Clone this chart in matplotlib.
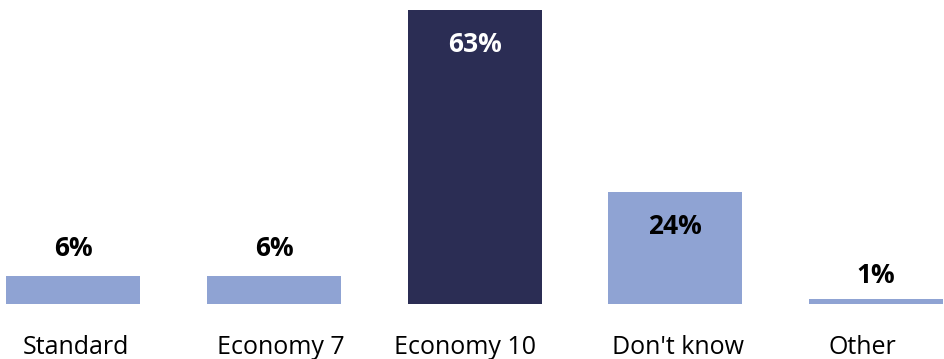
import matplotlib.pyplot as plt
import numpy as np

# tariff categories and share of respondents (%)
categories = ['Standard', 'Economy 7', 'Economy 10', "Don't know", 'Other']
values = [6, 6, 63, 24, 1]
colors = ['#8FA3D3', '#8FA3D3', '#2B2D54', '#8FA3D3', '#8FA3D3']

plt.rcParams['font.family'] = ['Open Sans', 'DejaVu Sans']

fig = plt.figure(figsize=(9.45, 3.59), dpi=100)
ax = fig.add_axes([0, 55 / 359, 1, 304 / 359])

x = np.arange(len(categories))
bars = ax.bar(x, values, width=0.668, color=colors)

ax.set_xlim(-0.366, 4.344)
ax.set_ylim(0, 65.1)

# value labels: inside the tall bars, above the short ones
for xi, v in zip(x, values):
    if v > 20:
        col = 'white' if v > 50 else 'black'
        ax.annotate(f'{v}%', (xi, v), xytext=(0, -25), textcoords='offset points',
                    ha='center', va='center', fontsize=19, fontweight='bold', color=col)
    else:
        off = 20 if v > 3 else 17.5
        ax.annotate(f'{v}%', (xi, v), xytext=(0, off), textcoords='offset points',
                    ha='center', va='center', fontsize=19, fontweight='bold', color='black')

# category names under the bars
shifts = [2, 5, -7, 2, -10]
for xi, name, dx in zip(x, categories, shifts):
    ax.annotate(name, (xi, 0), xytext=(dx, -31), textcoords='offset points',
                ha='center', va='center', fontsize=18)

ax.set_xticks([])
ax.set_yticks([])
for s in ax.spines.values():
    s.set_visible(False)

fig.savefig('out.png', dpi=100)
